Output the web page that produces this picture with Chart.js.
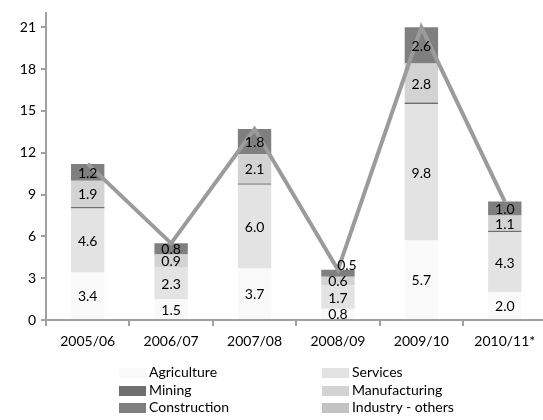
<!DOCTYPE html>
<html>
<head>
<meta charset="utf-8">
<script src="https://cdn.jsdelivr.net/npm/chart.js@4/dist/chart.umd.min.js"></script>
<style>
  html, body { margin: 0; padding: 0; background: #fff; overflow: hidden; }
  #wrap { position: relative; width: 543px; height: 420px; overflow: hidden; }
  #chart-canvas { position: absolute; left: 0; top: 0; }
  .legend-item { position: absolute; height: 18px; line-height: 18px; font: 14px Lato, sans-serif; color: #000; white-space: nowrap; }
  .legend-item span { display: inline-block; width: 27px; height: 10px; vertical-align: -1px; margin-right: 3px; }
</style>
</head>
<body>
<div id="wrap">
  <canvas id="chart-canvas" width="550" height="420"></canvas>
  <div id="legend"></div>
</div>
<script>
// years on the x axis
let years = ["2005/06", "2006/07", "2007/08", "2008/09", "2009/10", "2010/11*"];

// sector values, stacked bottom to top
let agriculture = [3.4, 1.5, 3.7, 0.8, 5.7, 2.0];
let services = [4.6, 2.3, 6.0, 1.7, 9.8, 4.3];
let mining = [0.1, 0.0, 0.1, 0.0, 0.1, 0.1];
let manufacturing = [1.9, 0.9, 2.1, 0.6, 2.8, 1.1];
let construction = [1.2, 0.8, 1.8, 0.5, 2.6, 1.0];
let industryOthers = [0.0, 0.0, 0.0, 0.0, 0.0, 0.0];

// total line over the bars
let totals = [11.2, 5.5, 13.7, 3.6, 21.0, 8.5];

let yTicks = [0, 3, 6, 9, 12, 15, 18, 21];

let sectors = [
  { name: "Agriculture", data: agriculture, color: "#f9f9f9", label: true },
  { name: "Services", data: services, color: "#e3e3e3", label: true },
  { name: "Mining", data: mining, color: "#6f6f6f", label: false },
  { name: "Manufacturing", data: manufacturing, color: "#d3d3d3", label: true },
  { name: "Construction", data: construction, color: "#7f7f7f", label: true },
  { name: "Industry - others", data: industryOthers, color: "#c3c3c3", label: false },
];

let axisColor = "#a0a0a0";
let fontFamily = "Lato, sans-serif";

let datasets = sectors.map(function (s) {
  return {
    type: "bar",
    label: s.name,
    data: s.data,
    backgroundColor: s.color,
    borderWidth: 0,
    stack: "sectors",
    order: 1,
    showValues: s.label,
  };
});

datasets.push({
  type: "line",
  label: "Total",
  data: totals,
  borderColor: "#9b9b9b",
  borderWidth: 4,
  pointRadius: 0,
  tension: 0,
  stack: "total",
  order: 0,
});

// prints each segment's value in the middle of it;
// a very thin top segment gets its value just above the bar instead
let valueLabels = {
  id: "valueLabels",
  afterDatasetsDraw: function (chart) {
    let c = chart.ctx;
    let last = chart.data.datasets.length - 2;
    c.save();
    c.font = "14px " + fontFamily;
    c.fillStyle = "#000";
    c.textAlign = "center";
    c.textBaseline = "middle";
    chart.data.datasets.forEach(function (ds, i) {
      if (!ds.showValues) return;
      chart.getDatasetMeta(i).data.forEach(function (bar, j) {
        let v = ds.data[j];
        if (!v) return;
        let h = bar.base - bar.y;
        let x = bar.x;
        let y = (bar.y + bar.base) / 2 + 1;
        if (h < 8 && ds.label === "Construction") {
          x += 9;
          y = bar.y - 4;
        }
        c.fillText(v.toFixed(1), x, y);
      });
    });
    c.restore();
  },
};

let chart = document.getElementById("chart-canvas").getContext("2d");

let chart1 = new Chart(chart, {
  data: { labels: years, datasets: datasets },
  plugins: [valueLabels],
  options: {
    responsive: false,
    animation: false,
    layout: { padding: { top: 5, right: 3.5, left: 0, bottom: 0 } },
    datasets: { bar: { barPercentage: 0.4, categoryPercentage: 1 } },
    plugins: { legend: { display: false }, tooltip: { enabled: false } },
    scales: {
      x: {
        stacked: true,
        offset: true,
        afterFit: function (s) { s.height = 100; },
        border: { color: axisColor, width: 2 },
        grid: { offset: true, drawOnChartArea: false, color: axisColor, lineWidth: 2, tickLength: 6 },
        ticks: { color: "#000", font: { family: fontFamily, size: 14 }, padding: 7, maxRotation: 0 },
      },
      y: {
        stacked: true,
        min: 0,
        max: 22,
        afterFit: function (s) { s.width = 46; },
        afterBuildTicks: function (s) {
          s.ticks = yTicks.map(function (v) { return { value: v }; });
        },
        border: { color: axisColor, width: 2 },
        grid: { drawOnChartArea: false, color: axisColor, lineWidth: 2, tickLength: 5 },
        ticks: { color: "#000", font: { family: fontFamily, size: 14 }, padding: 5 },
      },
    },
  },
});

// two-column legend under the axis
let legend = document.getElementById("legend");
let colX = [119, 322];
let rowY = [363, 381, 398];
sectors.forEach(function (s, i) {
  let item = document.createElement("div");
  item.className = "legend-item";
  item.style.left = colX[i % 2] + "px";
  item.style.top = rowY[Math.floor(i / 2)] + "px";
  let box = document.createElement("span");
  box.style.background = s.color;
  item.appendChild(box);
  item.appendChild(document.createTextNode(s.name));
  legend.appendChild(item);
});
</script>
</body>
</html>
